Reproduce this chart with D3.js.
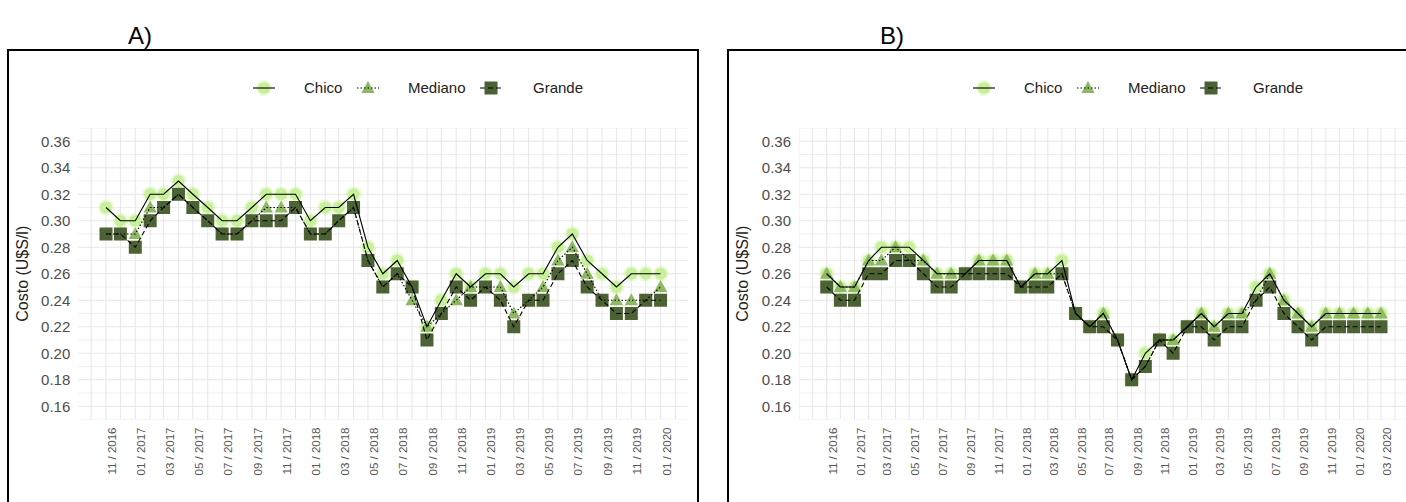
<!DOCTYPE html>
<html><head><meta charset="utf-8">
<script src="https://cdn.jsdelivr.net/npm/d3@7"></script>
<style>body{margin:0;background:#fff;} svg{display:block;font-family:"Liberation Sans",Arial,sans-serif;}</style>
</head><body><svg id="c" width="1406" height="502"></svg>
<script>
// ---------- DATA ----------
const monthsA = ["2016-11","2016-12","2017-01","2017-02","2017-03","2017-04","2017-05","2017-06","2017-07","2017-08","2017-09","2017-10","2017-11","2017-12",
  "2018-01","2018-02","2018-03","2018-04","2018-05","2018-06","2018-07","2018-08","2018-09","2018-10","2018-11","2018-12",
  "2019-01","2019-02","2019-03","2019-04","2019-05","2019-06","2019-07","2019-08","2019-09","2019-10","2019-11","2019-12","2020-01"];
const monthsB = monthsA.concat(["2020-02","2020-03"]);

const chicoA   = [0.31,0.30,0.30,0.32,0.32,0.33,0.32,0.31,0.30,0.30,0.31,0.32,0.32,0.32,0.30,0.31,0.31,0.32,0.28,0.26,0.27,0.25,0.22,0.24,0.26,0.25,0.26,0.26,0.25,0.26,0.26,0.28,0.29,0.27,0.26,0.25,0.26,0.26,0.26];
const medianoA = [0.29,0.29,0.29,0.31,0.31,0.32,0.31,0.30,0.29,0.29,0.30,0.31,0.31,0.31,0.29,0.29,0.30,0.31,0.27,0.25,0.26,0.24,0.22,0.23,0.24,0.25,0.25,0.25,0.23,0.24,0.25,0.27,0.28,0.26,0.24,0.24,0.24,0.24,0.25];
const grandeA  = [0.29,0.29,0.28,0.30,0.31,0.32,0.31,0.30,0.29,0.29,0.30,0.30,0.30,0.31,0.29,0.29,0.30,0.31,0.27,0.25,0.26,0.25,0.21,0.23,0.25,0.24,0.25,0.24,0.22,0.24,0.24,0.26,0.27,0.25,0.24,0.23,0.23,0.24,0.24];

const chicoB   = [0.26,0.25,0.25,0.27,0.28,0.28,0.28,0.27,0.26,0.26,0.26,0.27,0.27,0.27,0.25,0.26,0.26,0.27,0.23,0.22,0.23,0.21,0.18,0.20,0.21,0.21,0.22,0.23,0.22,0.23,0.23,0.25,0.26,0.24,0.23,0.22,0.23,0.23,0.23,0.23,0.23];
const medianoB = [0.26,0.25,0.25,0.27,0.27,0.28,0.27,0.27,0.26,0.26,0.26,0.27,0.27,0.27,0.25,0.26,0.26,0.26,0.23,0.22,0.23,0.21,0.18,0.19,0.21,0.21,0.22,0.23,0.22,0.23,0.23,0.24,0.26,0.24,0.23,0.22,0.23,0.23,0.23,0.23,0.23];
const grandeB  = [0.25,0.24,0.24,0.26,0.26,0.27,0.27,0.26,0.25,0.25,0.26,0.26,0.26,0.26,0.25,0.25,0.25,0.26,0.23,0.22,0.22,0.21,0.18,0.19,0.21,0.20,0.22,0.22,0.21,0.22,0.22,0.24,0.25,0.23,0.22,0.21,0.22,0.22,0.22,0.22,0.22];

const seriesNames = ["Chico","Mediano","Grande"];
const yTicks = [0.16,0.18,0.20,0.22,0.24,0.26,0.28,0.30,0.32,0.34,0.36];
const yTitle = "Costo (U$S/l)";
const panelTitles = ["A)","B)"];

// ---------- STYLE ----------
const styles = [
  {shape:"circle",   fill:"#c8f09a", dash:null},
  {shape:"triangle", fill:"#8fb863", dash:"1.5,2"},
  {shape:"square",   fill:"#4d6234", dash:"5,3"}
];

const parse = d3.timeParse("%Y-%m");
const fmt = d3.timeFormat("%m / %Y");
const svg = d3.select("#c");

const panels = [
  {title:panelTitles[0], months:monthsA, data:[chicoA,medianoA,grandeA], boxL:8,  boxR:698,  titleX:128, pl:78.3, pr:688.3},
  {title:panelTitles[1], months:monthsB, data:[chicoB,medianoB,grandeB], boxL:728, boxR:1420, titleX:880, pl:799,  pr:1408.7}
];
const pt = 128, pb = 419.5;

function drawShape(g, shape, x, y, fill) {
  if (shape === "circle") {
    g.append("circle").attr("cx",x).attr("cy",y).attr("r",8).attr("fill",fill).attr("opacity",0.35);
    g.append("circle").attr("cx",x).attr("cy",y).attr("r",6).attr("fill",fill);
  } else if (shape === "triangle") {
    const s = 7;
    g.append("path").attr("d",`M${x},${y-s}L${x+s*0.95},${y+s*0.7}L${x-s*0.95},${y+s*0.7}Z`).attr("fill",fill);
  } else {
    const s = 6.5;
    g.append("rect").attr("x",x-s).attr("y",y-s).attr("width",2*s).attr("height",2*s).attr("fill",fill);
  }
}

panels.forEach(p => {
  const g = svg.append("g");
  const dates = p.months.map(parse);
  const d0 = +dates[0], d1 = +dates[dates.length-1], span = d1 - d0;
  const x = d3.scaleTime().domain([new Date(d0 - 0.05*span), new Date(d1 + 0.05*span)]).range([p.pl, p.pr]);
  const y = d3.scaleLinear().domain([0.15, 0.37]).range([pb, pt]);

  // clip
  const cid = "clip" + p.boxL;
  svg.append("clipPath").attr("id",cid).append("rect").attr("x",p.pl).attr("y",pt).attr("width",Math.min(p.pr,1406)-p.pl).attr("height",pb-pt);
  const grid = g.append("g").attr("clip-path",`url(#${cid})`);

  // horizontal grid
  d3.range(15, 38).forEach(k => {
    const v = k/100;
    grid.append("line").attr("x1",p.pl).attr("x2",p.pr).attr("y1",y(v)).attr("y2",y(v))
      .attr("stroke", k%2===0 ? "#e6e6e6" : "#efefef").attr("stroke-width",1);
  });
  // vertical grid at every month
  const gm = d3.timeMonth.range(d3.timeMonth.offset(dates[0],-2), d3.timeMonth.offset(dates[dates.length-1],3));
  gm.forEach(d => {
    const xx = x(d);
    if (xx < p.pl-0.5 || xx > p.pr+0.5) return;
    grid.append("line").attr("x1",xx).attr("x2",xx).attr("y1",pt).attr("y2",pb)
      .attr("stroke","#e6e6e6").attr("stroke-width",1);
  });

  // y axis labels
  yTicks.forEach(v => {
    g.append("text").attr("x",p.pl-8).attr("y",y(v)).attr("dy","0.36em").attr("text-anchor","end")
      .attr("font-size",15).attr("fill","#4d4d4d").text(v.toFixed(2));
  });
  // y title
  g.append("text").attr("transform",`translate(${p.boxL+20},${(pt+pb)/2}) rotate(-90)`)
    .attr("text-anchor","middle").attr("font-size",16).attr("fill","#222").text(yTitle);

  // x labels
  dates.forEach((d,i) => {
    if (i % 2 !== 0) return;
    g.append("text").attr("transform",`translate(${x(d)+10},${pb+8}) rotate(-90)`)
      .attr("text-anchor","end").attr("font-size",11.5).attr("fill","#555").text(fmt(d));
  });

  // points
  const pg = g.append("g").attr("clip-path",`url(#${cid})`);
  p.data.forEach((vals, si) => {
    vals.forEach((v,i) => drawShape(pg, styles[si].shape, x(dates[i]), y(v), styles[si].fill));
  });
  // lines
  p.data.forEach((vals, si) => {
    const line = d3.line().x((v,i)=>x(dates[i])).y(v=>y(v));
    pg.append("path").attr("d",line(vals)).attr("fill","none").attr("stroke","#000")
      .attr("stroke-width",1.1).attr("stroke-dasharray",styles[si].dash);
  });

  // legend
  const lx = p.boxL + 256, ly = 88;
  const offs = [[0,40],[104,144],[227,269]];
  seriesNames.forEach((name, si) => {
    const cx = lx + offs[si][0];
    drawShape(g, styles[si].shape, cx, ly, styles[si].fill);
    g.append("line").attr("x1",cx-11).attr("x2",cx+11).attr("y1",ly).attr("y2",ly)
      .attr("stroke","#000").attr("stroke-width",1.1).attr("stroke-dasharray",styles[si].dash);
    g.append("text").attr("x",lx+offs[si][1]).attr("y",ly).attr("dy","0.36em")
      .attr("font-size",15).attr("fill","#222").text(name);
  });

  // box and title
  g.append("rect").attr("x",p.boxL).attr("y",50).attr("width",p.boxR-p.boxL).attr("height",480)
    .attr("fill","none").attr("stroke","#000").attr("stroke-width",2);
  g.append("text").attr("x",p.titleX).attr("y",44).attr("font-size",24).attr("fill","#000").text(p.title);
});
</script></body></html>
